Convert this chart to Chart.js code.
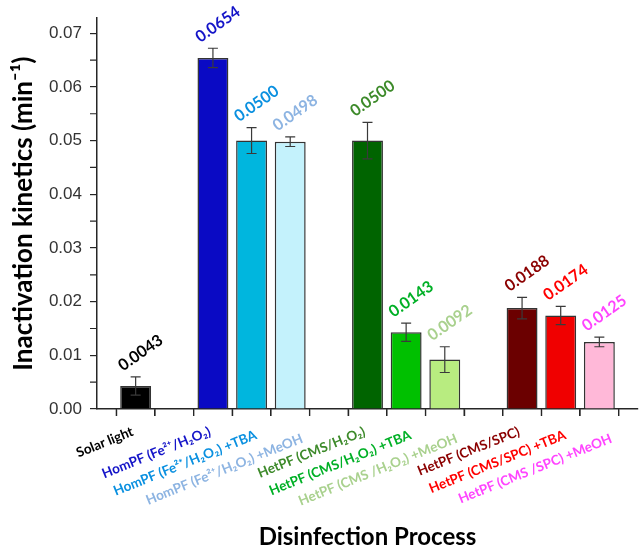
<!DOCTYPE html>
<html>
<head>
<meta charset="utf-8">
<script src="https://cdn.jsdelivr.net/npm/chart.js@4.4.1/dist/chart.umd.min.js"></script>
<style>
  html, body { margin: 0; padding: 0; background: #fff; }
  #wrap { width: 640px; height: 549px; }
</style>
</head>
<body>
<div id="wrap"><canvas id="chart"></canvas></div>
<script>
const categories = [
  "Solar light",
  "HomPF (Fe²⁺/H₂O₂)",
  "HomPF (Fe²⁺/H₂O₂) +TBA",
  "HomPF (Fe²⁺/H₂O₂) +MeOH",
  "HetPF (CMS/H₂O₂)",
  "HetPF (CMS/H₂O₂) +TBA",
  "HetPF (CMS /H₂O₂) +MeOH",
  "HetPF (CMS/SPC)",
  "HetPF (CMS/SPC) +TBA",
  "HetPF (CMS /SPC) +MeOH"
];
const rates = [0.0043, 0.0654, 0.0500, 0.0498, 0.0500, 0.0143, 0.0092, 0.0188, 0.0174, 0.0125];
const errors = [0.0017, 0.0018, 0.0024, 0.0009, 0.0034, 0.0017, 0.0024, 0.0020, 0.0017, 0.0009];
const groupSizes = [1, 3, 3, 3]; // bars per group, an empty slot between groups
const yTicks = [0, 0.01, 0.02, 0.03, 0.04, 0.05, 0.06, 0.07];

const barColors = ["#000000", "#0a0ac4", "#00b6de", "#c4f2fc", "#006400", "#00c000", "#b8ec80", "#6b0000", "#f00000", "#ffb8d8"];
const textColors = ["#000000", "#1414c8", "#0a90e0", "#8db4e2", "#3d8a2a", "#00b026", "#a9d18e", "#8b0000", "#ff0000", "#ff44ff"];

// slots on the x axis: empty, group, empty, group, ... empty
const slotLabels = [""];
const slotCat = [-1];
const slotPos = [-1]; // position inside its group
let c = 0;
groupSizes.forEach((n) => {
  for (let i = 0; i < n; i++) {
    slotLabels.push(categories[c]);
    slotCat.push(c);
    slotPos.push(i);
    c++;
  }
  slotLabels.push("");
  slotCat.push(-1);
  slotPos.push(-1);
});
const slotValues = slotCat.map((k) => (k < 0 ? null : rates[k]));

const AXIS = "#262626";
const FONT = "Lato, 'Open Sans', sans-serif";

// error bars, value labels, category labels and minor ticks
const extras = {
  id: "extras",
  afterDatasetsDraw(chart) {
    const { ctx } = chart;
    const xs = chart.scales.x;
    const ys = chart.scales.y;
    ctx.save();

    // error bars
    ctx.strokeStyle = "#3a3a3a";
    ctx.lineWidth = 1.2;
    slotCat.forEach((k, slot) => {
      if (k < 0) return;
      const x = xs.getPixelForValue(slot);
      const yt = ys.getPixelForValue(rates[k] + errors[k]);
      const yb = ys.getPixelForValue(rates[k] - errors[k]);
      ctx.beginPath();
      ctx.moveTo(x, yt); ctx.lineTo(x, yb);
      ctx.moveTo(x - 5, yt); ctx.lineTo(x + 5, yt);
      ctx.moveTo(x - 5, yb); ctx.lineTo(x + 5, yb);
      ctx.stroke();
    });

    // value labels
    ctx.font = "bold 16px " + FONT;
    ctx.textAlign = "center";
    ctx.textBaseline = "middle";
    slotCat.forEach((k, slot) => {
      if (k < 0) return;
      const x = xs.getPixelForValue(slot);
      const yt = ys.getPixelForValue(rates[k] + errors[k]);
      ctx.save();
      ctx.translate(x + 5, yt - 24);
      ctx.rotate(-35 * Math.PI / 180);
      ctx.fillStyle = textColors[k];
      ctx.fillText(rates[k].toFixed(4), 0, 0);
      ctx.restore();
    });

    // category labels, staggered inside each group
    ctx.font = "bold 13.5px " + FONT;
    ctx.textAlign = "right";
    ctx.textBaseline = "middle";
    slotCat.forEach((k, slot) => {
      if (k < 0) return;
      const p = slotPos[slot];
      const x = xs.getPixelForValue(slot) - 3 + 7.5 * p;
      const y = ys.bottom + 22 + 3.5 * p;
      ctx.save();
      ctx.translate(x, y);
      ctx.rotate(-22 * Math.PI / 180);
      ctx.fillStyle = textColors[k];
      ctx.fillText(categories[k], 0, 0);
      ctx.restore();
    });

    // minor ticks
    ctx.strokeStyle = AXIS;
    ctx.lineWidth = 1.2;
    ctx.beginPath();
    for (let s = 0; s < slotLabels.length - 1; s++) {
      const x = (xs.getPixelForValue(s) + xs.getPixelForValue(s + 1)) / 2;
      ctx.moveTo(x, ys.bottom); ctx.lineTo(x, ys.bottom + 7);
    }
    for (let i = 0; i < yTicks.length - 1; i++) {
      const y = ys.getPixelForValue((yTicks[i] + yTicks[i + 1]) / 2);
      ctx.moveTo(xs.left - 7, y); ctx.lineTo(xs.left, y);
    }
    ctx.stroke();
    ctx.restore();
  }
};

new Chart(document.getElementById("chart"), {
  type: "bar",
  data: {
    labels: slotLabels,
    datasets: [{
      data: slotValues,
      backgroundColor: (ctx) => barColors[slotCat[ctx.dataIndex]] || "#fff",
      borderColor: "#333",
      borderWidth: 1.5,
      barPercentage: 0.8,
      categoryPercentage: 1.0
    }]
  },
  options: {
    responsive: true,
    maintainAspectRatio: false,
    animation: false,
    layout: { padding: { top: 13, right: 2, left: 0, bottom: 0 } },
    plugins: {
      legend: { display: false },
      tooltip: { enabled: false }
    },
    scales: {
      x: {
        type: "category",
        offset: false,
        afterFit: (s) => { s.height = 140; },
        border: { color: AXIS, width: 1.5 },
        grid: { drawOnChartArea: false, tickLength: 7, color: AXIS, lineWidth: 1.2 },
        ticks: { display: false, autoSkip: false },
        title: {
          display: true,
          text: "Disinfection Process",
          color: "#000",
          font: { family: FONT, weight: "bold", size: 24, lineHeight: 1 },
          padding: { top: 0, bottom: 0 }
        }
      },
      y: {
        min: 0,
        max: 0.0728,
        afterFit: (s) => { s.width = 97; },
        afterBuildTicks: (s) => { s.ticks = yTicks.map((v) => ({ value: v })); },
        border: { color: AXIS, width: 1.5 },
        grid: { drawOnChartArea: false, tickLength: 7, color: AXIS, lineWidth: 1.2 },
        ticks: {
          padding: 8,
          color: "#333",
          font: { family: "'Liberation Sans', Arial, sans-serif", size: 17 },
          callback: (v) => Number(v).toFixed(2)
        },
        title: {
          display: true,
          text: "Inactivation kinetics (min⁻¹)",
          color: "#000",
          font: { family: FONT, weight: "bold", size: 26, lineHeight: 1 },
          padding: { top: 11, bottom: 0 }
        }
      }
    }
  },
  plugins: [extras]
});
</script>
</body>
</html>
